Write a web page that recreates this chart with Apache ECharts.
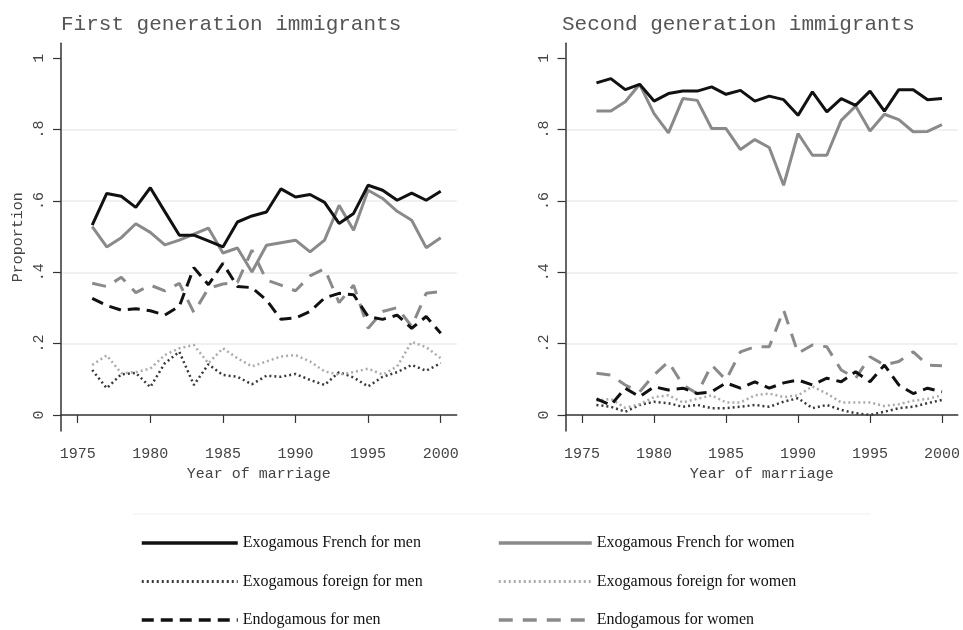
<!DOCTYPE html>
<html>
<head>
<meta charset="utf-8">
<script src="https://cdn.jsdelivr.net/npm/echarts@6/dist/echarts.min.js"></script>
<style>
html,body{margin:0;padding:0;background:#fff;}
#chart{width:963px;height:630px;}
</style>
</head>
<body>
<div id="chart"></div>
<script>
// years of marriage
var years = [1976,1977,1978,1979,1980,1981,1982,1983,1984,1985,1986,1987,1988,1989,1990,1991,1992,1993,1994,1995,1996,1997,1998,1999,2000];
var xTicks = [1975,1980,1985,1990,1995,2000];
var yTicks = [0,0.2,0.4,0.6,0.8,1];

// first generation
var firstFrenchMen     = [.532,.621,.613,.582,.637,.57,.504,.504,.488,.471,.541,.558,.569,.634,.611,.618,.596,.537,.565,.644,.63,.602,.622,.602,.627];
var firstFrenchWomen   = [.528,.471,.497,.536,.512,.477,.49,.507,.524,.454,.468,.401,.476,.483,.49,.457,.49,.588,.518,.63,.607,.571,.546,.469,.497];
var firstForeignMen    = [.126,.075,.114,.118,.078,.145,.177,.084,.142,.112,.107,.086,.11,.107,.115,.098,.084,.12,.105,.08,.107,.12,.14,.124,.145];
var firstForeignWomen  = [.14,.167,.117,.12,.13,.168,.187,.196,.145,.187,.159,.136,.15,.164,.168,.15,.122,.113,.12,.13,.113,.136,.205,.19,.159];
var firstEndoMen       = [.327,.307,.294,.298,.292,.28,.305,.413,.365,.425,.36,.357,.322,.268,.272,.29,.328,.341,.337,.276,.268,.28,.243,.276,.229];
var firstEndoWomen     = [.369,.36,.386,.343,.364,.348,.369,.287,.355,.367,.372,.462,.378,.364,.348,.39,.41,.315,.364,.243,.29,.301,.248,.341,.346];

// second generation
var secondFrenchMen    = [.931,.943,.912,.927,.88,.901,.908,.908,.92,.899,.91,.88,.894,.884,.84,.906,.85,.887,.868,.908,.852,.912,.912,.884,.887];
var secondFrenchWomen  = [.852,.852,.878,.927,.845,.791,.887,.882,.803,.803,.744,.772,.75,.644,.789,.728,.728,.826,.866,.796,.843,.828,.794,.795,.814];
var secondForeignMen   = [.028,.023,.009,.028,.037,.033,.023,.028,.019,.019,.023,.028,.023,.037,.047,.019,.028,.014,.005,0,.009,.019,.023,.033,.042];
var secondForeignWomen = [.04,.045,.02,.03,.05,.055,.035,.045,.055,.035,.035,.055,.06,.05,.055,.08,.06,.035,.035,.035,.025,.03,.04,.045,.055];
var secondEndoMen      = [.045,.028,.075,.051,.079,.07,.075,.06,.065,.09,.075,.093,.075,.09,.098,.084,.103,.093,.121,.093,.14,.084,.06,.075,.065];
var secondEndoWomen    = [.117,.112,.084,.065,.112,.149,.084,.06,.14,.098,.177,.191,.191,.294,.173,.196,.191,.126,.103,.163,.14,.15,.177,.14,.138];

var names = ['Exogamous French for men','Exogamous French for women',
             'Exogamous foreign for men','Exogamous foreign for women',
             'Endogamous for men','Endogamous for women'];

// line look for each of the 6 groups
var looks = [
    {color:'#111111', width:3,   type:'solid'},
    {color:'#8a8a8a', width:3,   type:'solid'},
    {color:'#3a3a3a', width:2.5, type:[2,3]},
    {color:'#ababab', width:2.5, type:[2,3]},
    {color:'#111111', width:3,   type:[12,7]},
    {color:'#8a8a8a', width:3,   type:[14,10]}
];

function pairs(vals){
    return years.map(function(y,i){ return [y, vals[i]]; });
}

var monoFont = '"Liberation Mono", "DejaVu Sans Mono", monospace';

function xAx(idx){
    return {
        gridIndex: idx, type: 'value', min: 1973.85, max: 2001.1,
        minInterval: 5, maxInterval: 5,
        name: 'Year of marriage', nameLocation: 'middle', nameGap: 36,
        nameTextStyle: {fontFamily: monoFont, fontSize: 15, color: '#444'},
        axisLine: {lineStyle: {color: '#333', width: 1.5}},
        axisTick: {show: true, length: 8, customValues: xTicks, lineStyle: {color: '#333', width: 1.2}},
        axisLabel: {customValues: xTicks, margin: 16, fontFamily: monoFont, fontSize: 15, color: '#444',
            formatter: function(v){ return String(v); }},
        splitLine: {show: false}
    };
}
function yAx(idx, showName){
    return {
        gridIndex: idx, type: 'value', min: -0.045, max: 1.042,
        minInterval: 0.2, maxInterval: 0.2,
        name: showName ? 'Proportion' : '', nameLocation: 'middle', nameGap: 35,
        nameTextStyle: {fontFamily: monoFont, fontSize: 15, color: '#444'},
        axisLine: {show: true, lineStyle: {color: '#333', width: 1.5}},
        axisTick: {show: true, length: 8, customValues: yTicks, lineStyle: {color: '#333', width: 1.2}},
        axisLabel: {customValues: yTicks, rotate: 90, margin: 14, fontFamily: monoFont, fontSize: 15, color: '#444',
            formatter: function(v){ return v === 0 ? '0' : (v === 1 ? '1' : String(v).replace('0.', '.')); }},
        splitLine: {show: true, showMinLine: false, showMaxLine: false, lineStyle: {color: '#ebebeb', width: 1.5}}
    };
}

var panels = [
    [firstFrenchMen, firstFrenchWomen, firstForeignMen, firstForeignWomen, firstEndoMen, firstEndoWomen],
    [secondFrenchMen, secondFrenchWomen, secondForeignMen, secondForeignWomen, secondEndoMen, secondEndoWomen]
];

var series = [];
panels.forEach(function(panel, p){
    // draw dotted first so solid lines sit on top
    [2,3,5,4,1,0].forEach(function(k){
        series.push({
            name: names[k], type: 'line', xAxisIndex: p, yAxisIndex: p,
            symbol: 'none', smooth: false,
            lineStyle: {color: looks[k].color, width: looks[k].width, type: looks[k].type, cap: 'butt'},
            itemStyle: {color: looks[k].color},
            data: pairs(panel[k])
        });
    });
});

// legend entries, line drawn a bit heavier like the original key
function legendItem(k){
    return {name: names[k], lineStyle: {width: looks[k].width + 0.5}};
}

var legendText = {fontFamily: '"Liberation Serif", "Times New Roman", serif', fontSize: 16, color: '#111', lineHeight: 16};

var chart = echarts.init(document.getElementById('chart'));

var option = {
    animation: false,
    backgroundColor: '#fff',
    title: [
        {text: 'First generation immigrants', left: 61, top: 14, padding: 0,
         textStyle: {fontFamily: monoFont, fontSize: 21, fontWeight: 'normal', color: '#555'}},
        {text: 'Second generation immigrants', left: 562, top: 14, padding: 0,
         textStyle: {fontFamily: monoFont, fontSize: 21, fontWeight: 'normal', color: '#555'}}
    ],
    grid: [
        {left: 61, top: 43.3, width: 395.7, height: 387.7},
        {left: 565.5, top: 43.3, width: 395.4, height: 387.7}
    ],
    xAxis: [xAx(0), xAx(1)],
    yAxis: [yAx(0, true), yAx(1, false)],
    legend: [
        {orient: 'vertical', left: 140, top: 535, padding: 0, itemWidth: 96, itemHeight: 16, itemGap: 22.5,
         selectedMode: false, textStyle: legendText, itemStyle: {opacity: 0},
         data: [legendItem(0), legendItem(2), legendItem(4)]},
        {orient: 'vertical', left: 497, top: 535, padding: 0, itemWidth: 93, itemHeight: 16, itemGap: 22.5,
         selectedMode: false, textStyle: legendText, itemStyle: {opacity: 0},
         data: [legendItem(1), legendItem(3), legendItem(5)]}
    ],
    graphic: [
        {type: 'line', shape: {x1: 133, y1: 514, x2: 870, y2: 514}, style: {stroke: '#f0f0f0', lineWidth: 1}}
    ],
    series: series
};

chart.setOption(option);
</script>
</body>
</html>
